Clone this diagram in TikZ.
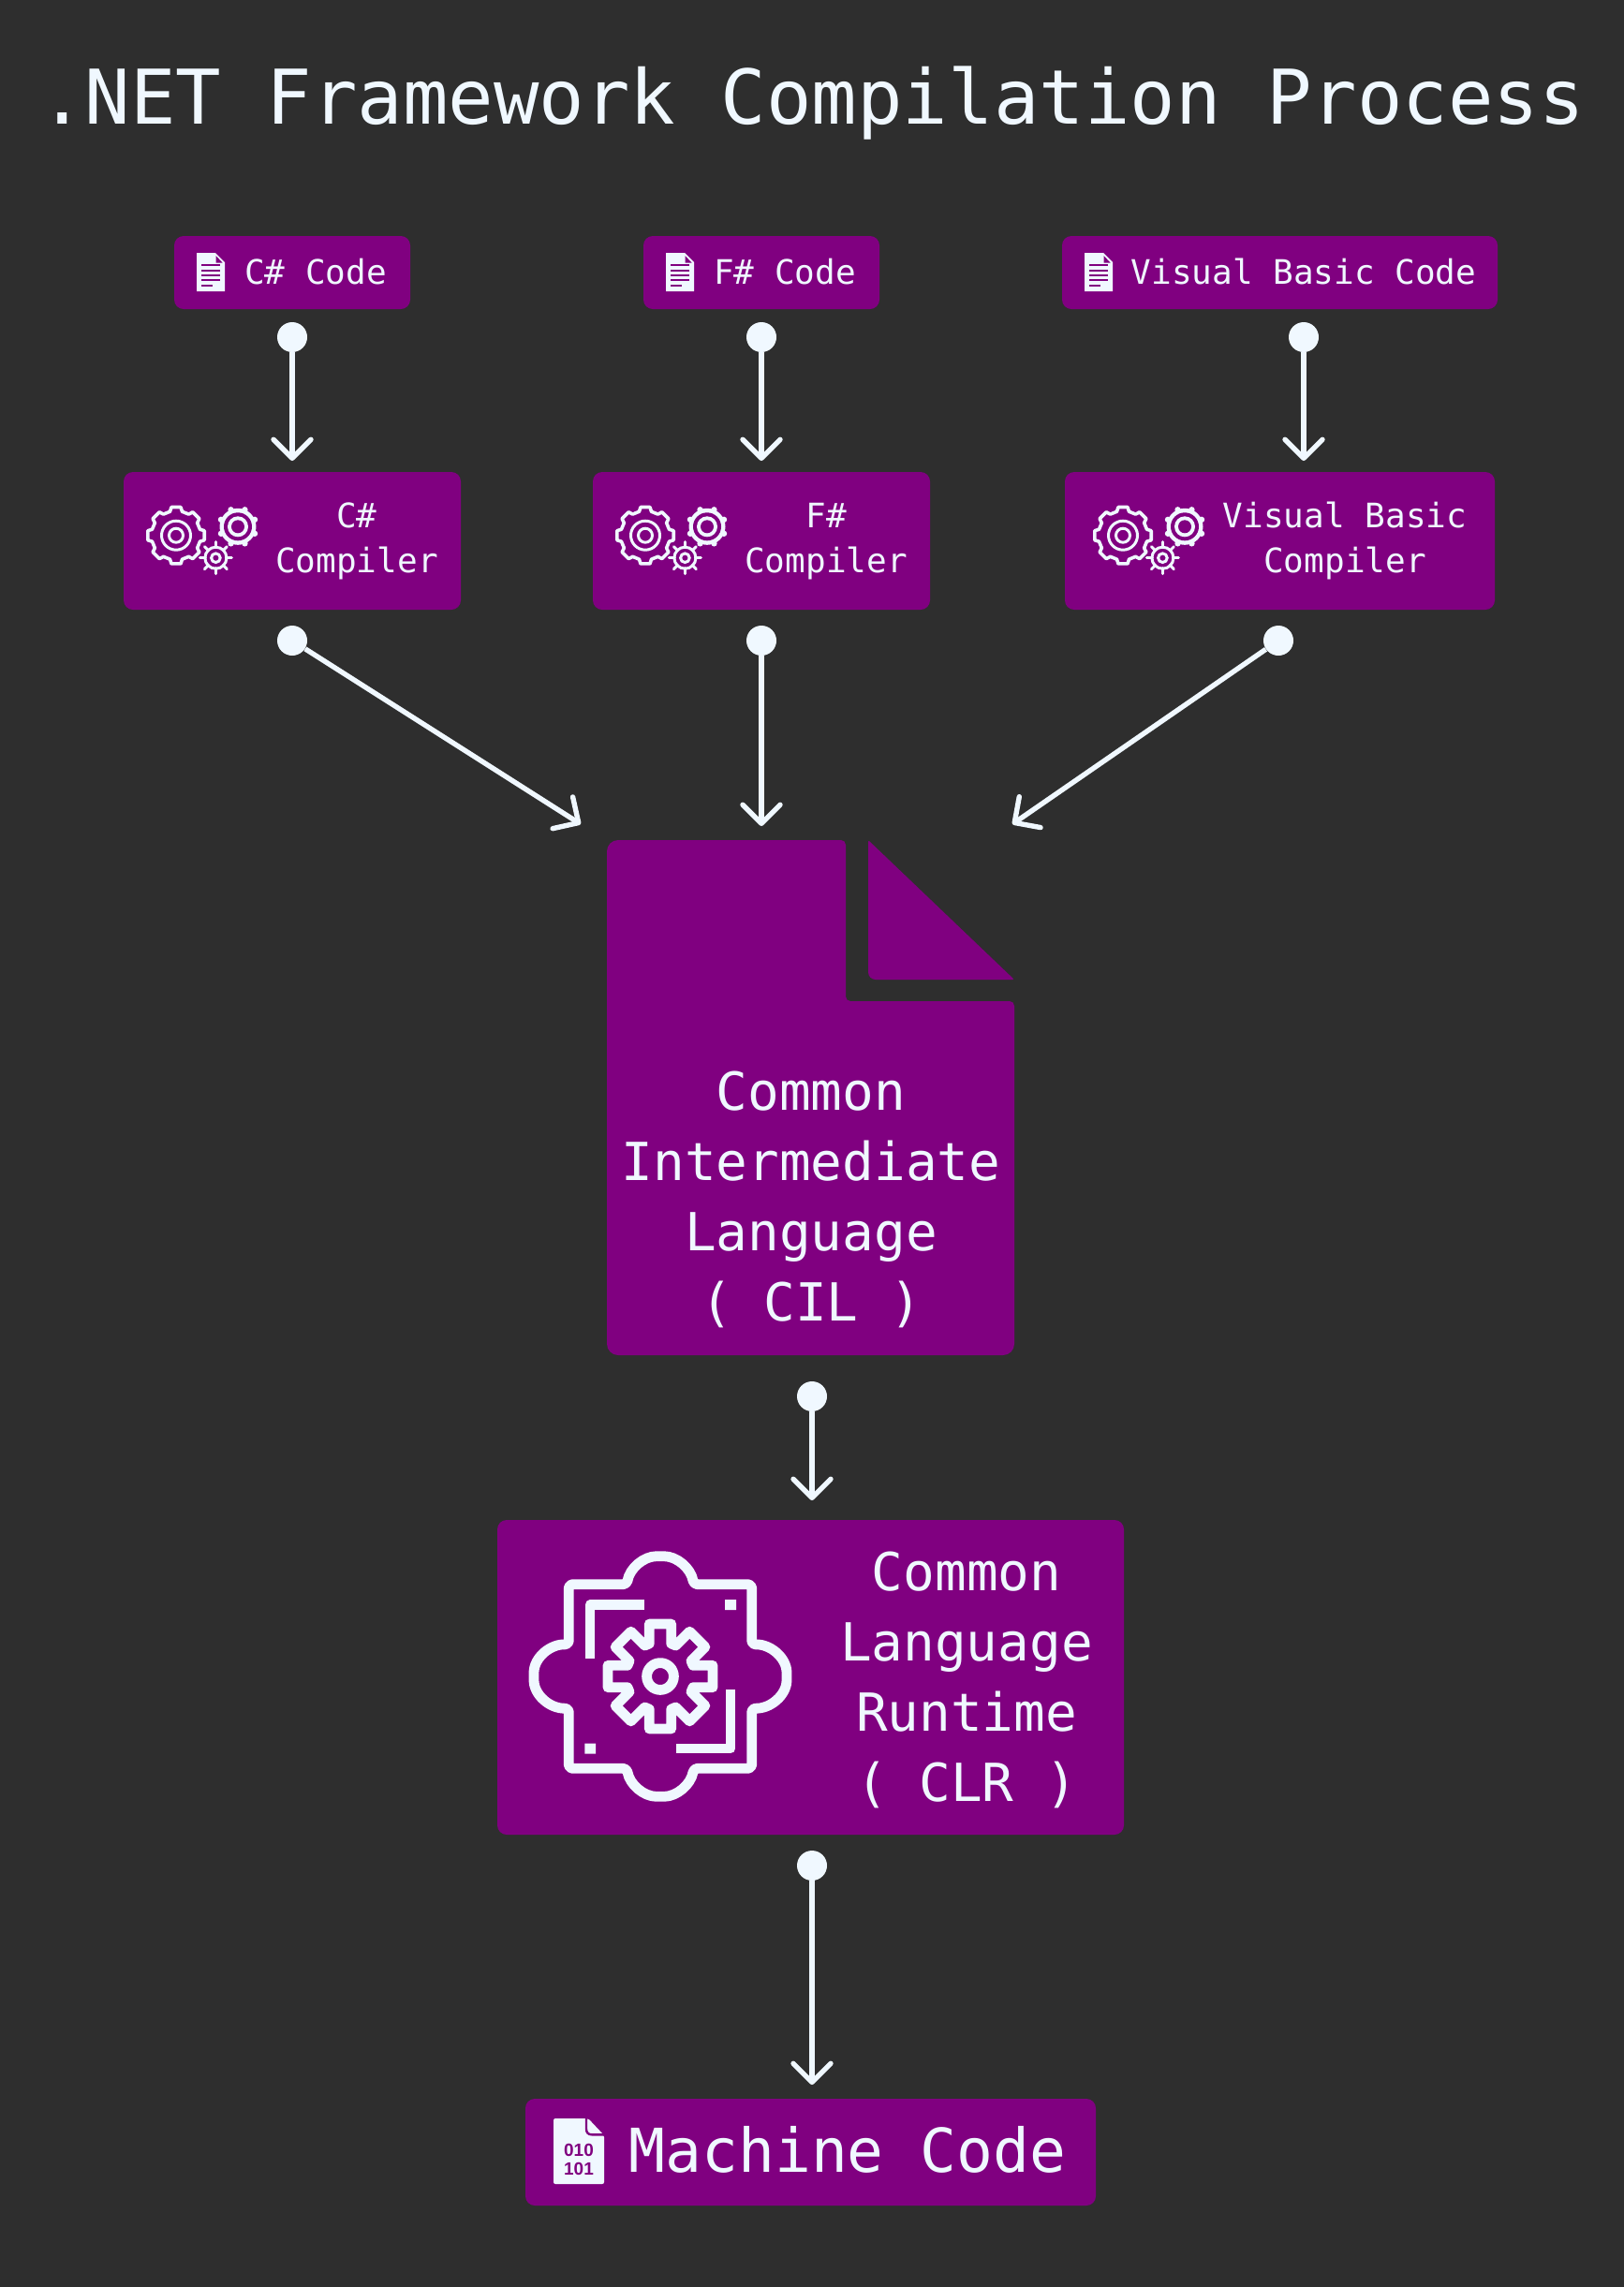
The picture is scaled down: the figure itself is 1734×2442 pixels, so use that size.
\documentclass[tikz,border=0pt]{standalone}
\usepackage{fontspec}
\setmainfont{DejaVu Sans Mono}
\newfontfamily\binfont{Liberation Sans}
\usetikzlibrary{arrows.meta}
\definecolor{bgc}{HTML}{2E2E2E}
\definecolor{pur}{HTML}{800080}
\definecolor{ink}{HTML}{F0F8FF}
\tikzset{
  card/.style={fill=pur,rounded corners=5pt,inner sep=0pt},
  dotn/.style={circle,fill=ink,minimum size=16pt,inner sep=0pt},
  conn/.style={draw=ink,line width=2.7pt,-{Straight Barb[length=10pt,width=20pt,round]}},
  txt/.style={text=ink,inner sep=0pt,align=center,anchor=base},
  small/.style={txt,font=\fontsize{18pt}{24pt}\selectfont},
  mid/.style={txt,font=\fontsize{28pt}{37.5pt}\selectfont},
  iconline/.style={draw=ink,line width=5.4pt,line join=round},
}
\newcommand{\docicon}[1]{%
  \begin{scope}[shift={(#1)}]
    \fill[ink] (0,0) -- (20,0) -- (30,10) -- (30,41) -- (0,41) -- cycle;
    \fill[pur] (20.5,3) -- (20.5,10.5) -- (27.5,10.5) -- cycle;
    \foreach \yy in {13,18.5,24,29.3} \fill[pur] (5,\yy-1) rectangle (25,\yy+1);
    \fill[pur] (5,33.7) rectangle (16.7,35.7);
  \end{scope}}
\newcommand{\gearset}[1]{%
  \begin{scope}[shift={(#1)}]
    \draw[ink,line width=1.8pt,line join=round]
      (-6.5,-25.5) \foreach \a in {0,45,...,315}{
        -- ([rotate=-\a]-6.5,-25.5) -- ([rotate=-\a]-5,-30.2) -- ([rotate=-\a]5,-30.2) -- ([rotate=-\a]6.5,-25.5)} -- cycle;
    \draw[ink,line width=1.5pt] (0,0) circle[radius=15.5] (0,0) circle[radius=7.5];
    \begin{scope}[shift={(66,-9.4)}]
      \fill[ink] (0,0) circle[radius=19.5];
      \foreach \a in {0,45,...,315} \fill[ink] (\a+22.5:19.5) circle[radius=3.2];
      \fill[pur] (0,0) circle[radius=15];
      \fill[ink] (0,0) circle[radius=11];
      \fill[pur] (0,0) circle[radius=7];
    \end{scope}
    \begin{scope}[shift={(42.4,24)}]
      \fill[pur] (0,0) circle[radius=14];
      \foreach \a in {0,45,...,315} \draw[ink,line width=1.5pt,line cap=round] (\a:11) -- (\a:17);
      \draw[ink,line width=1.5pt] (0,0) circle[radius=11.5] (0,0) circle[radius=4.8];
    \end{scope}
  \end{scope}}
\begin{document}
\begin{tikzpicture}[x=0.5pt,y=-0.5pt]
\fill[bgc] (0,0) rectangle (1734,2442);
\useasboundingbox (0,0) rectangle (1734,2442);
% title
\node[txt,font=\fontsize{40.3pt}{48pt}\selectfont] (title) at (867,132) {.NET Framework Compilation Process};
% source boxes
\node[card,minimum width=126pt,minimum height=39pt] (cscode) at (312,291) {};
\node[card,minimum width=126pt,minimum height=39pt] (fscode) at (813,291) {};
\node[card,minimum width=232.5pt,minimum height=39pt] (vbcode) at (1366.5,291) {};
\docicon{210,270}\docicon{711,270}\docicon{1158,270}
\node[small] (cscodet) at (337,303) {C\# Code};
\node[small] (fscodet) at (838,303) {F\# Code};
\node[small] (vbcodet) at (1392,303) {Visual Basic Code};
% compiler boxes
\node[card,minimum width=180pt,minimum height=73.5pt] (cscomp) at (312,577.5) {};
\node[card,minimum width=180pt,minimum height=73.5pt] (fscomp) at (813,577.5) {};
\node[card,minimum width=229.5pt,minimum height=73.5pt] (vbcomp) at (1366.5,577.5) {};
\gearset{188,571.7}\gearset{689,571.7}\gearset{1199,571.7}
\node[small] (cscompt) at (381,611) {C\#\\Compiler};
\node[small] (fscompt) at (882,611) {F\#\\Compiler};
\node[small] (vbcompt) at (1436,611) {Visual Basic\\Compiler};
% CIL document
\fill[pur] (648,1000) [rounded corners=6pt] -- (648,897) [rounded corners=2.5pt] -- (903,897) -- (903,1069) -- (1083,1069) [rounded corners=6pt] -- (1083,1447) -- (648,1447) -- cycle;
\fill[pur,rounded corners=1pt] (980,1046) [rounded corners=4pt] -- (927,1046) [rounded corners=1pt] -- (927,897) -- (1083,1046) -- cycle;
\node[mid] (cil) at (866,1410) {Common\\Intermediate\\Language\\( CIL )};
% CLR box
\node[card,minimum width=334.5pt,minimum height=168pt] (clr) at (865.5,1791) {};
\begin{scope}[shift={(705,1790)}]
  \draw[iconline,rounded corners=2pt]
    (-35.7,-98.3) .. controls (-32.6,-115.6) and (-17.6,-128.3) .. (0,-128.3)
    .. controls (17.6,-128.3) and (32.6,-115.6) .. (35.7,-98.3)
    -- (97.7,-98.3) -- (97.7,-34)
    .. controls (117.6,-34.7) and (135,-19.9) .. (135,0)
    .. controls (135,19.9) and (117.6,34.7) .. (97.7,34)
    -- (97.7,98.3) -- (35.7,98.3)
    .. controls (32.6,115.6) and (17.6,128.3) .. (0,128.3)
    .. controls (-17.6,128.3) and (-32.6,115.6) .. (-35.7,98.3)
    -- (-97.7,98.3) -- (-97.7,34)
    .. controls (-117.6,34.7) and (-135,19.9) .. (-135,0)
    .. controls (-135,-19.9) and (-117.6,-34.7) .. (-97.7,-34)
    -- (-97.7,-98.3) -- cycle;
  \draw[iconline] (-17.3,-76.3) -- (-75,-76.3) -- (-75,-19);
  \draw[iconline] (75,14) -- (75,77) -- (17.3,77);
  \fill[ink] (69,-82) rectangle (81,-71) (-80.7,71.7) rectangle (-69,82.7);
  \draw[iconline]
    (-11.7,-35) \foreach \a in {0,45,...,315}{
      -- ([rotate=-\a]-11.7,-35) -- ([rotate=-\a]-11.7,-56) -- ([rotate=-\a]11.7,-56) -- ([rotate=-\a]11.7,-35)} -- cycle;
  \draw[iconline] (0,0) circle[radius=14.4];
\end{scope}
\node[mid] (clrt) at (1032,1923) {Common\\Language\\Runtime\\( CLR )};
% machine code box
\node[card,minimum width=304.5pt,minimum height=57pt] (mc) at (865.5,2298) {};
\fill[ink,rounded corners=1pt] (591,2262) -- (628,2262) -- (645,2280) -- (645,2332) -- (591,2332) -- cycle;
\draw[pur,line width=1.2pt] (626,2262) -- (626,2273) .. controls (626,2277) and (628,2279.3) .. (632,2279.3) -- (645,2279.3);
\node[text=pur,inner sep=0pt,anchor=base,align=center,font=\binfont\bfseries\fontsize{9.5pt}{10pt}\selectfont] (bin) at (618,2322) {010\\101};
\node[txt,font=\fontsize{32.3pt}{38pt}\selectfont] (mct) at (905,2319) {Machine Code};
% connector dots
\node[dotn] (d1) at (312,360) {};
\node[dotn] (d2) at (813,360) {};
\node[dotn] (d3) at (1392,360) {};
\node[dotn] (d4) at (312,684) {};
\node[dotn] (d5) at (813,684) {};
\node[dotn] (d6) at (1365,684) {};
\node[dotn] (d7) at (867,1491) {};
\node[dotn] (d8) at (867,1992) {};
\coordinate (t1) at (312,492);
\coordinate (t2) at (813,492);
\coordinate (t3) at (1392,492);
\coordinate (t4) at (620,880);
\coordinate (t5) at (813,882);
\coordinate (t6) at (1081,880);
\coordinate (t7) at (867,1602);
\coordinate (t8) at (867,2226);
\foreach \n in {1,...,8} \draw[conn] (d\n) -- (t\n);
\end{tikzpicture}
\end{document}
